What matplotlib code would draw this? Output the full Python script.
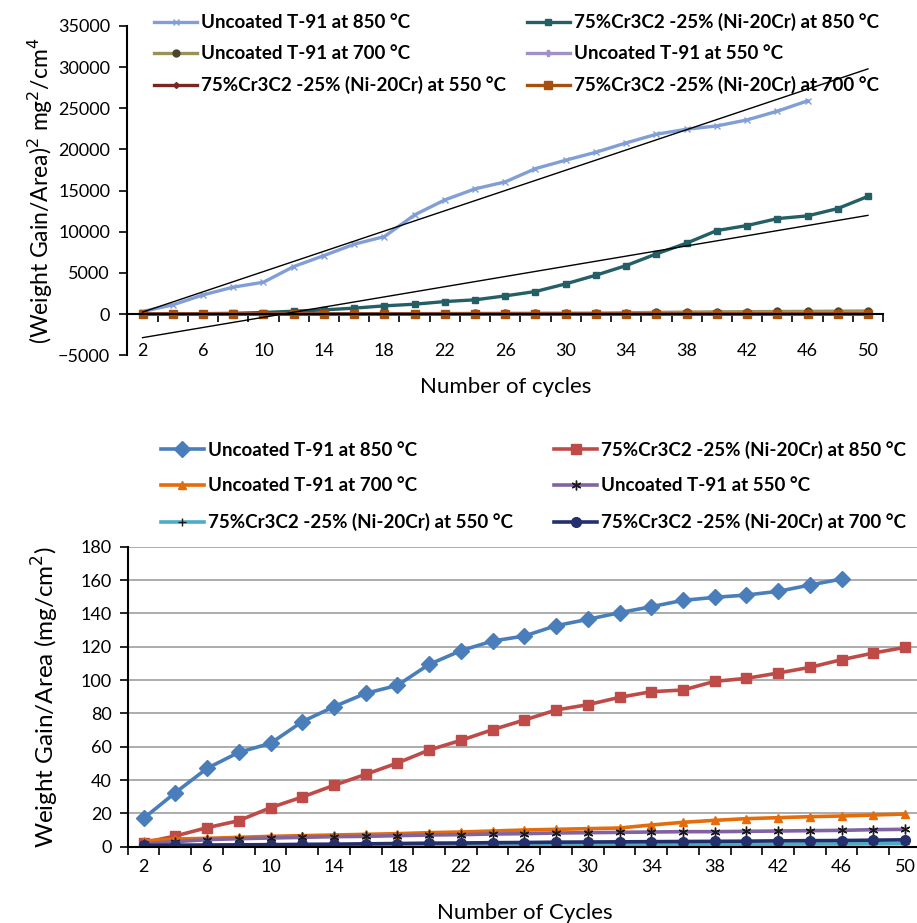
import numpy as np
import matplotlib.pyplot as plt

plt.rcParams['font.family'] = ['Lato', 'DejaVu Sans']

# number of cycles
cycles = np.arange(2, 52, 2)

# bottom chart: weight gain / area (mg/cm2)
unc850 = [17, 32.4, 47, 56.6, 62, 75, 84, 92, 96.8, 109.4, 117.6, 123.4, 126.4,
          132.6, 136.4, 140.4, 144, 147.8, 149.6, 151, 153.2, 157, 160.6]
coat850 = [2.4, 6.4, 11.4, 15.6, 23.4, 29.8, 36.8, 43.4, 50.2, 58, 63.8, 70.2, 76,
           82, 85.2, 89.6, 93, 94, 99.2, 101, 104.2, 107.6, 112.2, 116.2, 119.6]
unc700 = [3.4, 4.6, 5.0, 5.6, 6.2, 6.6, 7.0, 7.4, 7.8, 8.4, 8.8, 9.4, 10,
          10.4, 10.8, 11.2, 13, 14.6, 15.8, 16.8, 17.4, 18, 18.4, 19, 19.6]
unc550 = [1.8, 3, 4.2, 4.8, 5.2, 5.6, 6, 6.2, 6.6, 7, 7.2, 7.6, 7.8,
          8.2, 8.4, 8.6, 8.8, 9, 9, 9.2, 9.4, 9.6, 9.8, 10.2, 10.4]
coat550 = [0.3, 0.4, 0.5, 0.6, 0.7, 0.7, 0.8, 0.8, 0.9, 1.0, 1.0, 1.1, 1.1,
           1.2, 1.2, 1.3, 1.3, 1.4, 1.4, 1.5, 1.5, 1.6, 1.6, 1.7, 1.8]
coat700 = [0.8, 0.9, 1.0, 1.1, 1.2, 1.4, 1.5, 1.7, 1.9, 2.1, 2.2, 2.4, 2.5,
           2.7, 2.8, 2.9, 3.0, 3.1, 3.2, 3.3, 3.5, 3.6, 3.7, 3.9, 4.1]

# top chart: (weight gain / area)^2
sq_unc850 = [320, 1130, 2340, 3280, 3880, 5780, 7110, 8490, 9420, 12050, 13870, 15210,
             16060, 17670, 18690, 19660, 20790, 21840, 22450, 22850, 23580, 24640, 25890]
sq_coat850 = [10, 40, 60, 100, 200, 360, 520, 730, 1010, 1210, 1530, 1740, 2220,
              2750, 3680, 4730, 5900, 7320, 8620, 10150, 10760, 11600, 11930, 12820, 14300]
sq_unc700 = [12, 21, 25, 31, 38, 44, 49, 55, 61, 71, 77, 88, 100,
             108, 117, 125, 169, 213, 250, 282, 303, 324, 339, 361, 384]
sq_unc550 = [3, 9, 18, 23, 27, 31, 36, 38, 44, 49, 52, 58, 61,
             67, 71, 74, 77, 81, 81, 85, 88, 92, 96, 104, 108]
sq_coat550 = [0, 0, 0, 0, 0, 0, 1, 1, 1, 1, 1, 1, 1,
              1, 1, 2, 2, 2, 2, 2, 2, 3, 3, 3, 3]
sq_coat700 = [1, 1, 1, 1, 1, 2, 2, 3, 4, 4, 5, 6, 6,
              7, 8, 8, 9, 10, 10, 11, 12, 13, 14, 15, 17]

labels = ['Uncoated T-91 at 850 °C', '75%Cr3C2 -25% (Ni-20Cr) at 850 °C',
          'Uncoated T-91 at 700 °C', 'Uncoated T-91 at 550 °C',
          '75%Cr3C2 -25% (Ni-20Cr) at 550 °C', '75%Cr3C2 -25% (Ni-20Cr) at 700 °C']
tick_labels = [2, 6, 10, 14, 18, 22, 26, 30, 34, 38, 42, 46, 50]
# legend is filled row by row in the original
order = [0, 2, 4, 1, 3, 5]

fig = plt.figure(figsize=(9.17, 9.23), dpi=100)

# ---------------- top chart ----------------
ax1 = fig.add_axes([0.139, 0.615, 0.824, 0.357])
top_series = [sq_unc850, sq_coat850, sq_unc700, sq_unc550, sq_coat550, sq_coat700]
top_colors = ['#819ed6', '#245f66', '#9b9156', '#a291c8', '#7b2525', '#a5500f']
top_markers = ['x', 's', 'o', 'P', 'D', 's']
top_mfc = ['#819ed6', '#245f66', '#4a4530', '#a291c8', '#7b2525', '#a5500f']
top_ms = [5, 5, 5, 5, 3, 6]
for vals, c, m, mf, ms, lab in zip(top_series, top_colors, top_markers, top_mfc, top_ms, labels):
    ax1.plot(cycles[:len(vals)], vals, color=c, lw=2.4, marker=m, ms=ms,
             mfc=mf, mec=mf, label=lab)

# linear trendlines
xx = np.array([2, 50])
for vals in [sq_unc850, sq_coat850]:
    k, b = np.polyfit(cycles[:len(vals)], vals, 1)
    ax1.plot(xx, k * xx + b, color='black', lw=1)

ax1.set_xlim(1, 51)
ax1.set_ylim(-5000, 35000)
ax1.set_yticks(np.arange(-5000, 35001, 5000))
ax1.spines['top'].set_visible(False)
ax1.spines['right'].set_visible(False)
ax1.spines['bottom'].set_position(('data', 0))
ax1.spines['left'].set_linewidth(1.5)
ax1.spines['bottom'].set_linewidth(1.5)
ax1.set_xticks([])
ax1.set_xticks(np.arange(1, 52, 2), minor=True)
ax1.tick_params(axis='x', which='minor', length=5.5, width=1.2, direction='out')
ax1.tick_params(axis='y', length=5.5, width=1.2, labelsize=13, pad=7)
sec = ax1.secondary_xaxis(0.045)
sec.set_xticks(tick_labels, [str(t) for t in tick_labels])
sec.tick_params(length=0, labelsize=13, pad=2)
sec.spines['bottom'].set_visible(False)
ax1.set_ylabel('(Weight Gain/Area)$^2$ mg$^2$/cm$^4$', fontsize=16.5, labelpad=2)
ax1.text(0.5, -0.095, 'Number of cycles', transform=ax1.transAxes,
         ha='center', va='center', fontsize=16)
h, l = ax1.get_legend_handles_labels()
ax1.legend([h[i] for i in order], [l[i] for i in order], ncol=2, loc='upper left',
           bbox_to_anchor=(0.013, 1.09), frameon=False,
           prop={'weight': 'bold', 'size': 13.5}, handlelength=2.3,
           handletextpad=0.2, columnspacing=1.1, labelspacing=0.75)

# ---------------- bottom chart ----------------
ax2 = fig.add_axes([0.1393, 0.0827, 0.865, 0.325])
bot_series = [unc850, coat850, unc700, unc550, coat550, coat700]
bot_colors = ['#4a7ebb', '#be4b48', '#e46c0a', '#8064a2', '#4bacc6', '#24306e']
bot_markers = ['D', 's', '^', (6, 2, 0), '+', 'o']
bot_mfc = ['#4a7ebb', '#be4b48', '#e46c0a', '#1a1a1a', '#1a1a1a', '#24306e']
bot_ms = [8, 7, 6, 7, 6, 7]
for vals, c, m, mf, ms, lab in zip(bot_series, bot_colors, bot_markers, bot_mfc, bot_ms, labels):
    ax2.plot(cycles[:len(vals)], vals, color=c, lw=2.6, marker=m, ms=ms,
             mfc=mf, mec=mf, label=lab)

ax2.set_xlim(1, 51)
ax2.set_ylim(0, 180)
ax2.set_yticks(np.arange(0, 181, 20))
ax2.grid(axis='y', color='#a6a6a6', lw=1.3)
ax2.set_axisbelow(True)
ax2.spines['top'].set_visible(False)
ax2.spines['right'].set_visible(False)
ax2.spines['left'].set_linewidth(1.5)
ax2.spines['bottom'].set_linewidth(1.5)
ax2.set_xticks(tick_labels, [str(t) for t in tick_labels])
ax2.set_xticks(np.arange(1, 52, 2), minor=True)
ax2.tick_params(axis='x', which='major', length=0, labelsize=13, pad=9)
ax2.tick_params(axis='x', which='minor', length=5.5, width=1.2, direction='out')
ax2.tick_params(axis='y', length=5.5, width=1.2, labelsize=13, pad=6)
ax2.set_ylabel('Weight Gain/Area (mg/cm$^2$)', fontsize=17.5, labelpad=14)
ax2.set_xlabel('Number of Cycles', fontsize=16, labelpad=20)
h, l = ax2.get_legend_handles_labels()
fig.legend([h[i] for i in order], [l[i] for i in order], ncol=2, loc='upper left',
           bbox_to_anchor=(0.157, 0.541), frameon=False,
           prop={'weight': 'bold', 'size': 13.5}, handlelength=2.3,
           handletextpad=0.2, columnspacing=2.2, labelspacing=1.0)

plt.savefig('out.png', dpi=100)
